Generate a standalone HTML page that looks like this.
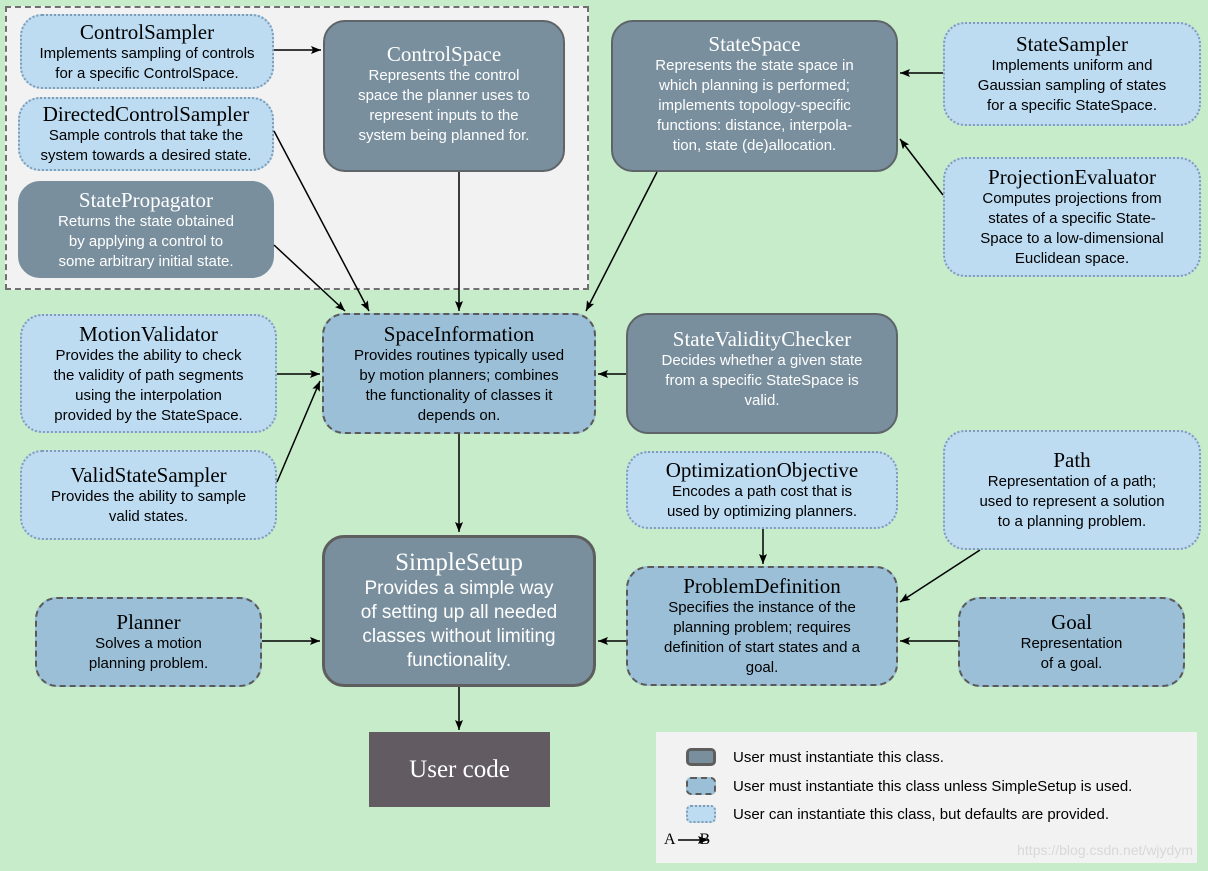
<!DOCTYPE html>
<html><head><meta charset="utf-8"><style>
body{margin:0;width:1208px;height:871px;background:#c6ecca;position:relative;overflow:hidden;font-family:"Liberation Sans",sans-serif}
.b{position:absolute;box-sizing:border-box;border-radius:22px;text-align:center;font-size:15px;line-height:20px;color:#000;display:flex;flex-direction:column;justify-content:center}
.b h{display:block;font-family:"Liberation Serif",serif;font-size:21px;line-height:24px}
.l{background:#bddcf2;border:2px dotted #7f9cb5}
.m{background:#9bbfd6;border:2px dashed #5a5a5a}
.d{background:#798f9e;border:2px solid #5e6468;color:#fff}
.g{position:absolute;left:5px;top:6px;width:584px;height:284px;background:#f2f2f2;border:2px dashed #707070;box-sizing:border-box}
svg{position:absolute;left:0;top:0}
</style></head><body>
<div class="g"></div>
<div class="b l" style="left:20px;top:14px;width:254px;height:75px"><h>ControlSampler</h>Implements sampling of controls<br>for a specific ControlSpace.</div>
<div class="b l" style="left:18px;top:97px;width:256px;height:74px"><h>DirectedControlSampler</h>Sample controls that take the<br>system towards a desired state.</div>
<div class="b d" style="left:18px;top:181px;width:256px;height:97px;border-color:#798f9e"><h>StatePropagator</h>Returns the state obtained<br>by applying a control to<br>some arbitrary initial state.</div>
<div class="b d" style="left:323px;top:20px;width:242px;height:152px;justify-content:flex-start;padding-top:20px"><h>ControlSpace</h>Represents the control<br>space the planner uses to<br>represent inputs to the<br>system being planned for.</div>
<div class="b d" style="left:611px;top:20px;width:287px;height:152px;justify-content:flex-start;padding-top:10px"><h>StateSpace</h>Represents the state space in<br>which planning is performed;<br>implements topology-specific<br>functions: distance, interpola-<br>tion, state (de)allocation.</div>
<div class="b l" style="left:943px;top:22px;width:258px;height:104px"><h>StateSampler</h>Implements uniform and<br>Gaussian sampling of states<br>for a specific StateSpace.</div>
<div class="b l" style="left:943px;top:157px;width:258px;height:120px"><h>ProjectionEvaluator</h>Computes projections from<br>states of a specific State-<br>Space to a low-dimensional<br>Euclidean space.</div>
<div class="b l" style="left:20px;top:314px;width:257px;height:119px"><h>MotionValidator</h>Provides the ability to check<br>the validity of path segments<br>using the interpolation<br>provided by the StateSpace.</div>
<div class="b m" style="left:322px;top:313px;width:274px;height:121px"><h>SpaceInformation</h>Provides routines typically used<br>by motion planners; combines<br>the functionality of classes it<br>depends on.</div>
<div class="b d" style="left:626px;top:313px;width:272px;height:121px;justify-content:flex-start;padding-top:12px"><h>StateValidityChecker</h>Decides whether a given state<br>from a specific StateSpace is<br>valid.</div>
<div class="b l" style="left:20px;top:450px;width:257px;height:90px"><h>ValidStateSampler</h>Provides the ability to sample<br>valid states.</div>
<div class="b l" style="left:626px;top:451px;width:272px;height:78px"><h>OptimizationObjective</h>Encodes a path cost that is<br>used by optimizing planners.</div>
<div class="b l" style="left:943px;top:430px;width:258px;height:120px"><h>Path</h>Representation of a path;<br>used to represent a solution<br>to a planning problem.</div>
<div class="b d" style="left:322px;top:535px;width:274px;height:152px;border:3px solid #5e5e5e;font-size:19px;line-height:24px"><h style="font-size:25px;line-height:28px">SimpleSetup</h>Provides a simple way<br>of setting up all needed<br>classes without limiting<br>functionality.</div>
<div class="b m" style="left:35px;top:597px;width:227px;height:90px"><h>Planner</h>Solves a motion<br>planning problem.</div>
<div class="b m" style="left:626px;top:566px;width:272px;height:120px"><h>ProblemDefinition</h>Specifies the instance of the<br>planning problem; requires<br>definition of start states and a<br>goal.</div>
<div class="b m" style="left:958px;top:597px;width:227px;height:90px"><h>Goal</h>Representation<br>of a goal.</div>
<div style="position:absolute;left:369px;top:732px;width:181px;height:75px;background:#625b62;color:#fff;font-family:'Liberation Serif',serif;font-size:25px;display:flex;align-items:center;justify-content:center">User code</div>
<div style="position:absolute;left:656px;top:732px;width:541px;height:131px;background:#f2f2f2;font-size:15px">
<div style="position:absolute;left:30px;top:16px;width:30px;height:18px;background:#798f9e;border:3px solid #5e5e5e;border-radius:5px;box-sizing:border-box"></div>
<div style="position:absolute;left:77px;top:17px">User must instantiate this class.</div>
<div style="position:absolute;left:30px;top:45px;width:30px;height:18px;background:#9bbfd6;border:2px dashed #5a5a5a;border-radius:5px;box-sizing:border-box"></div>
<div style="position:absolute;left:77px;top:46px">User must instantiate this class unless SimpleSetup is used.</div>
<div style="position:absolute;left:30px;top:73px;width:30px;height:18px;background:#bddcf2;border:2px dotted #7f9cb5;border-radius:5px;box-sizing:border-box"></div>
<div style="position:absolute;left:77px;top:74px">User can instantiate this class, but defaults are provided.</div>
<div style="position:absolute;left:8px;top:99px;font-family:'Liberation Serif',serif;font-size:16px">A&nbsp;&nbsp;&nbsp;&nbsp;&nbsp;&nbsp;B</div>
<div style="position:absolute;right:4px;top:110px;color:#d8d8d8;font-size:14px">https://blog.csdn.net/wjydym</div>
</div>
<svg width="1208" height="871">
<defs><marker id="a" markerWidth="10" markerHeight="8" refX="10" refY="4" orient="auto" markerUnits="userSpaceOnUse"><path d="M0,0L10,4L0,8L2,4z" fill="#000"/></marker></defs>
<g stroke="#000" stroke-width="1.5" fill="none" marker-end="url(#a)">
<line x1="274" y1="50" x2="321" y2="50"/>
<line x1="274" y1="131" x2="369" y2="311"/>
<line x1="274" y1="245" x2="345" y2="311"/>
<line x1="459" y1="172" x2="459" y2="311"/>
<line x1="657" y1="172" x2="586" y2="311"/>
<line x1="943" y1="73" x2="900" y2="73"/>
<line x1="943" y1="195" x2="900" y2="139"/>
<line x1="277" y1="374" x2="320" y2="374"/>
<line x1="277" y1="482" x2="320" y2="381"/>
<line x1="626" y1="374" x2="598" y2="374"/>
<line x1="459" y1="434" x2="459" y2="532"/>
<line x1="763" y1="529" x2="763" y2="564"/>
<line x1="980" y1="550" x2="900" y2="602"/>
<line x1="958" y1="641" x2="900" y2="641"/>
<line x1="626" y1="641" x2="598" y2="641"/>
<line x1="262" y1="641" x2="320" y2="641"/>
<line x1="459" y1="687" x2="459" y2="730"/>
<line x1="678" y1="840" x2="708" y2="840"/>
</g>
</svg>
</body></html>
